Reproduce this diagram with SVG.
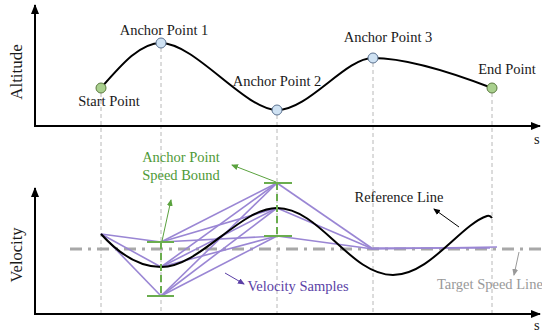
<svg xmlns="http://www.w3.org/2000/svg" width="542" height="333" viewBox="0 0 542 333">
<style>
text{font-family:"Liberation Serif","Times New Roman",serif;font-size:14.5px;fill:#1a1a1a}
.axis{stroke:#000;stroke-width:2;fill:none}
.guide{stroke:#b8b8b8;stroke-width:1;stroke-dasharray:4 3;fill:none}
.curve{stroke:#000;stroke-width:2;fill:none}
.samp{stroke:#9a86d4;stroke-width:1.6;fill:none}
.bound{stroke:#6aad4e;stroke-width:2;fill:none}
.bdash{stroke:#6aad4e;stroke-width:2;stroke-dasharray:7 4;fill:none}
.blue{fill:#cfe2f3;stroke:#5b7290;stroke-width:1}
.green{fill:#a9d08e;stroke:#5b7a3f;stroke-width:1}
</style>
<defs>
<marker id="ah" markerWidth="10" markerHeight="8" refX="9" refY="4" orient="auto" markerUnits="userSpaceOnUse"><path d="M0,0 L10,4 L0,8 Z" fill="#000"/></marker>
<marker id="ahs" markerWidth="7" markerHeight="6" refX="6" refY="3" orient="auto" markerUnits="userSpaceOnUse"><path d="M0,0 L7,3 L0,6 Z" fill="#000"/></marker>
<marker id="ahg" markerWidth="7" markerHeight="6" refX="6" refY="3" orient="auto" markerUnits="userSpaceOnUse"><path d="M0,0 L7,3 L0,6 Z" fill="#5aa23e"/></marker>
<marker id="ahp" markerWidth="7" markerHeight="6" refX="6" refY="3" orient="auto" markerUnits="userSpaceOnUse"><path d="M0,0 L7,3 L0,6 Z" fill="#5b3fa6"/></marker>
<marker id="ahgr" markerWidth="7" markerHeight="6" refX="6" refY="3" orient="auto" markerUnits="userSpaceOnUse"><path d="M0,0 L7,3 L0,6 Z" fill="#999"/></marker>
</defs>

<g id="guides">
<line class="guide" x1="101" y1="93" x2="101" y2="314"/>
<line class="guide" x1="161" y1="48" x2="161" y2="314"/>
<line class="guide" x1="277" y1="115" x2="277" y2="314"/>
<line class="guide" x1="373" y1="63" x2="373" y2="314"/>
<line class="guide" x1="492" y1="93" x2="492" y2="314"/>
</g>

<g id="altitude-axes">
<line class="axis" x1="35" y1="127" x2="35" y2="5" marker-end="url(#ah)"/>
<line class="axis" x1="34" y1="126" x2="540" y2="126" marker-end="url(#ah)"/>
<text x="534" y="144">s</text>
<text transform="translate(22,72) rotate(-90)" text-anchor="middle" style="font-size:17px">Altitude</text>
</g>

<g id="altitude-curve">
<path class="curve" d="M101,88 C122,64 140,43 161,43 C195,43 245,110 277,110 C309,110 345,58 373,58 C401,58 440,68 492,88"/>
</g>

<g id="start-point"><circle class="green" cx="101" cy="88" r="5"/><text x="109" y="106" text-anchor="middle">Start Point</text></g>
<g id="anchor-point-1"><circle class="blue" cx="161" cy="43" r="5"/><text x="164" y="35" text-anchor="middle">Anchor Point 1</text></g>
<g id="anchor-point-2"><circle class="blue" cx="277" cy="110" r="5"/><text x="277" y="86" text-anchor="middle">Anchor Point 2</text></g>
<g id="anchor-point-3"><circle class="blue" cx="373" cy="58" r="5"/><text x="388" y="42" text-anchor="middle">Anchor Point 3</text></g>
<g id="end-point"><circle class="green" cx="492" cy="88" r="5"/><text x="507" y="74" text-anchor="middle">End Point</text></g>

<g id="velocity-axes">
<line class="axis" x1="35" y1="315" x2="35" y2="188" marker-end="url(#ah)"/>
<line class="axis" x1="34" y1="314" x2="540" y2="314" marker-end="url(#ah)"/>
<text x="534" y="330">s</text>
<text transform="translate(22,255) rotate(-90)" text-anchor="middle" style="font-size:16.5px">Velocity</text>
</g>

<g id="target-speed-line">
<line x1="70" y1="249" x2="542" y2="249" stroke="#a8a8a8" stroke-width="3" stroke-dasharray="12 6 3 6"/>
</g>

<g id="velocity-samples">
<line class="samp" x1="101" y1="234" x2="161" y2="242"/>
<line class="samp" x1="101" y1="234" x2="161" y2="267"/>
<line class="samp" x1="101" y1="234" x2="161" y2="296"/>
<line class="samp" x1="161" y1="242" x2="277" y2="183"/>
<line class="samp" x1="161" y1="242" x2="277" y2="208"/>
<line class="samp" x1="161" y1="242" x2="277" y2="236"/>
<line class="samp" x1="161" y1="267" x2="277" y2="183"/>
<line class="samp" x1="161" y1="267" x2="277" y2="208"/>
<line class="samp" x1="161" y1="267" x2="277" y2="236"/>
<line class="samp" x1="161" y1="296" x2="277" y2="183"/>
<line class="samp" x1="161" y1="296" x2="277" y2="208"/>
<line class="samp" x1="161" y1="296" x2="277" y2="236"/>
<line class="samp" x1="277" y1="183" x2="373" y2="249"/>
<line class="samp" x1="277" y1="208" x2="373" y2="249"/>
<line class="samp" x1="277" y1="236" x2="373" y2="249"/>
<line class="samp" x1="373" y1="249" x2="497" y2="247"/>
<line class="samp" x1="373" y1="248" x2="490" y2="248"/>
</g>

<g id="reference-line">
<path class="curve" d="M101,234 C120,255 140,267 161,267 C200,267 240,208 277,208 C320,208 350,275 393,275 C430,275 460,225 487,216 C490,215 492,218 492,218"/>
</g>

<g id="speed-bounds">
<line class="bound" x1="147" y1="242" x2="174" y2="242"/>
<line class="bound" x1="147" y1="296" x2="174" y2="296"/>
<line class="bdash" x1="161" y1="242" x2="161" y2="296"/>
<line class="bound" x1="264" y1="183" x2="292" y2="183"/>
<line class="bound" x1="264" y1="236" x2="292" y2="236"/>
<line class="bdash" x1="277" y1="183" x2="277" y2="236"/>
</g>

<g id="labels">
<text x="181" y="162" text-anchor="middle" style="fill:#4f9a37">Anchor Point</text>
<text x="181" y="180" text-anchor="middle" style="fill:#4f9a37">Speed Bound</text>
<line x1="276" y1="182" x2="232" y2="165" stroke="#5aa23e" stroke-width="1" marker-end="url(#ahg)"/>
<line x1="162" y1="241" x2="171" y2="200" stroke="#5aa23e" stroke-width="1" marker-end="url(#ahg)"/>
<text x="399" y="202" text-anchor="middle">Reference Line</text>
<line x1="459" y1="227" x2="434" y2="209" stroke="#000" stroke-width="1" marker-end="url(#ahs)"/>
<text x="298" y="291" text-anchor="middle" style="fill:#5b3fa6">Velocity Samples</text>
<line x1="225" y1="273" x2="244" y2="284" stroke="#5b3fa6" stroke-width="1" marker-end="url(#ahp)"/>
<text x="437" y="289" style="fill:#999">Target Speed Line</text>
<line x1="519" y1="252" x2="514" y2="275" stroke="#999" stroke-width="1" marker-end="url(#ahgr)"/>
</g>
</svg>
